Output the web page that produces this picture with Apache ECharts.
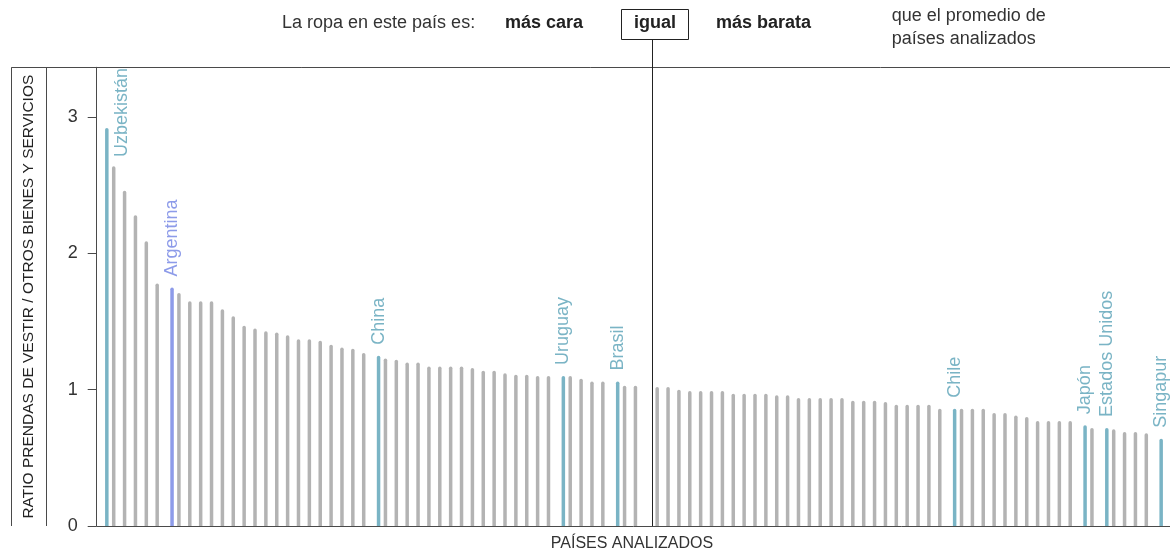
<!DOCTYPE html>
<html><head><meta charset="utf-8">
<script src="https://cdn.jsdelivr.net/npm/echarts@6/dist/echarts.min.js"></script>
<style>html,body{margin:0;padding:0;background:#fff}#c{width:1170px;height:557px}</style>
</head><body><div id="c"></div>
<script>
const countries = ["Uzbekistán","País 2","País 3","País 4","País 5","País 6","Argentina","País 8","País 9","País 10",
"País 11","País 12","País 13","País 14","País 15","País 16","País 17","País 18","País 19","País 20",
"País 21","País 22","País 23","País 24","País 25","China","País 27","País 28","País 29","País 30",
"País 31","País 32","País 33","País 34","País 35","País 36","País 37","País 38","País 39","País 40",
"País 41","País 42","Uruguay","País 44","País 45","País 46","País 47","Brasil","País 49","País 50",
"Promedio","País 52","País 53","País 54","País 55","País 56","País 57","País 58","País 59","País 60",
"País 61","País 62","País 63","País 64","País 65","País 66","País 67","País 68","País 69","País 70",
"País 71","País 72","País 73","País 74","País 75","País 76","País 77","País 78","Chile","País 80",
"País 81","País 82","País 83","País 84","País 85","País 86","País 87","País 88","País 89","País 90",
"Japón","País 92","Estados Unidos","País 94","País 95","País 96","País 97","Singapur"];
const ratios = [2.92,2.64,2.46,2.28,2.09,1.78,1.75,1.71,1.65,1.65,
1.65,1.59,1.54,1.47,1.45,1.43,1.42,1.40,1.37,1.37,
1.36,1.33,1.31,1.30,1.27,1.25,1.23,1.22,1.20,1.20,
1.17,1.17,1.17,1.17,1.16,1.14,1.14,1.12,1.11,1.11,
1.10,1.10,1.10,1.10,1.08,1.06,1.06,1.06,1.03,1.03,
null,1.02,1.02,1.00,0.99,0.99,0.99,0.99,0.97,0.97,
0.97,0.97,0.96,0.96,0.94,0.94,0.94,0.94,0.94,0.92,
0.92,0.92,0.91,0.89,0.89,0.89,0.89,0.86,0.86,0.86,
0.86,0.86,0.83,0.83,0.81,0.80,0.77,0.77,0.77,0.77,
0.74,0.72,0.72,0.71,0.69,0.69,0.68,0.64];
const highlighted = ["Uzbekistán","Argentina","China","Uruguay","Brasil","Chile","Japón","Estados Unidos","Singapur"];
const argentinaName = "Argentina";
const averageName = "Promedio";
const yTicks = [0,1,2,3];
const yMax = 3.366;

const FONT = "'Liberation Sans', Arial, sans-serif";
const GRAY = '#b3b3b3', TEAL = '#7ab4c5', ARG = '#8d9be9', INK = '#333333', LINE = '#4a4a4a';

const grayData = ratios.map((v, i) => highlighted.includes(countries[i]) ? '-' : (v == null ? '-' : v));
const hlData = ratios.map((v, i) => {
  const name = countries[i];
  if (!highlighted.includes(name)) return '-';
  const col = name === argentinaName ? ARG : TEAL;
  const item = {value: v, itemStyle: {color: col}, label: {color: col}};
  if (i === 0) item.label.position = [16.7, 29];
  return item;
});

const chart = echarts.init(document.getElementById('c'), null, {renderer: 'canvas'});
chart.setOption({
  animation: false,
  backgroundColor: '#fff',
  grid: {left: 99.4, right: 5.4, top: 67.3, bottom: 29.7, containLabel: false},
  xAxis: {
    type: 'category', data: countries,
    axisLine: {show: false}, axisTick: {show: false}, axisLabel: {show: false},
    name: 'PAÍSES ANALIZADOS', nameLocation: 'middle', nameGap: 10,
    nameTextStyle: {fontFamily: FONT, fontSize: 16, color: INK, verticalAlign: 'top'}
  },
  yAxis: {
    type: 'value', min: 0, max: yMax, offset: 2.7,
    splitLine: {show: false},
    axisLine: {show: true, lineStyle: {color: LINE, width: 1}},
    axisTick: {show: true, length: 9, customValues: yTicks, lineStyle: {color: LINE}},
    axisLabel: {customValues: yTicks, margin: 19, fontFamily: FONT, fontSize: 18, color: INK},
    name: 'RATIO PRENDAS DE VESTIR / OTROS BIENES Y SERVICIOS', nameLocation: 'middle', nameGap: 60,
    nameTextStyle: {fontFamily: FONT, fontSize: 15.5, color: '#222'}
  },
  series: [
    {type: 'bar', name: 'resto', data: grayData, barWidth: 3.5, barGap: '14%',
     itemStyle: {color: GRAY, borderRadius: [2, 2, 0, 0]}, silent: true},
    {type: 'bar', name: 'destacados', data: hlData, barWidth: 3.5, barGap: '14%',
     itemStyle: {color: TEAL, borderRadius: [2, 2, 0, 0]}, silent: true,
     label: {show: true, position: 'top', distance: 11, rotate: 90, align: 'left', verticalAlign: 'middle',
       formatter: '{b}', fontFamily: FONT, fontSize: 18}}
  ]
});

const y0 = chart.convertToPixel({yAxisIndex: 0}, 0);
const yTop = chart.convertToPixel({yAxisIndex: 0}, yMax);
const xAvg = chart.convertToPixel({xAxisIndex: 0}, averageName) + 3.4;
const xAxisLine = 96.7;
const ls = {stroke: LINE, lineWidth: 1};
chart.setOption({graphic: [
  {type: 'line', shape: {x1: 11.5, y1: Math.round(yTop) + 0.5, x2: 1170, y2: Math.round(yTop) + 0.5}, style: ls, silent: true},
  {type: 'line', shape: {x1: 11.5, y1: yTop, x2: 11.5, y2: y0}, style: ls, silent: true},
  {type: 'line', shape: {x1: 46.5, y1: yTop, x2: 46.5, y2: y0}, style: ls, silent: true},
  {type: 'line', shape: {x1: xAxisLine, y1: Math.round(y0) + 0.5, x2: 1170, y2: Math.round(y0) + 0.5}, style: ls, silent: true},
  {type: 'line', shape: {x1: Math.round(xAvg) + 0.5, y1: 39.5, x2: Math.round(xAvg) + 0.5, y2: y0}, style: {stroke: '#222', lineWidth: 1}, silent: true},
  {type: 'rect', shape: {x: 621.5, y: 9.5, width: 67, height: 30}, style: {fill: 'none', stroke: '#222', lineWidth: 1}, silent: true},
  {type: 'text', x: 282, y: 23.5, style: {text: 'La ropa en este país es:', font: '18px ' + FONT, fill: INK, verticalAlign: 'middle', textVerticalAlign: 'middle'}},
  {type: 'text', x: 505, y: 23.5, style: {text: 'más cara', font: 'bold 18px ' + FONT, fill: '#222', verticalAlign: 'middle', textVerticalAlign: 'middle'}},
  {type: 'text', x: 655, y: 23.5, style: {text: 'igual', font: 'bold 18px ' + FONT, fill: '#222', align: 'center', textAlign: 'center', verticalAlign: 'middle', textVerticalAlign: 'middle'}},
  {type: 'text', x: 716, y: 23.5, style: {text: 'más barata', font: 'bold 18px ' + FONT, fill: '#222', verticalAlign: 'middle', textVerticalAlign: 'middle'}},
  {type: 'text', x: 891.7, y: 4, style: {text: 'que el promedio de\npaíses analizados', font: '18px ' + FONT, fill: INK, lineHeight: 23.5, verticalAlign: 'top', textVerticalAlign: 'top'}}
]});
</script></body></html>
